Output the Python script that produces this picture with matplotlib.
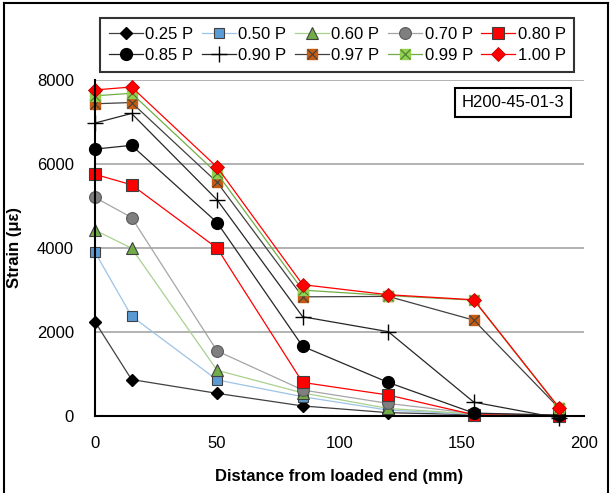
import matplotlib.pyplot as plt
from matplotlib.lines import Line2D
from matplotlib.legend_handler import HandlerTuple

plt.rcParams['font.family'] = ['Liberation Sans', 'DejaVu Sans']

# Odległość od obciążonego końca (mm)
distance = [0, 15, 50, 85, 120, 155, 190]

# Odkształcenia dla kolejnych poziomów obciążenia
s025 = [2240, 860, 530, 230, 70, 20, 0]
s050 = [3900, 2370, 850, 450, 130, 30, 0]
s060 = [4420, 3990, 1080, 540, 170, 40, 10]
s070 = [5200, 4720, 1540, 610, 290, 50, 10]
s080 = [5750, 5500, 3990, 790, 490, 20, 0]
s085 = [6350, 6440, 4600, 1650, 790, 60, 10]
s090 = [6970, 7200, 5140, 2355, 2000, 320, -60]
s097 = [7430, 7460, 5560, 2830, 2840, 2275, 170]
s099 = [7620, 7680, 5770, 2990, 2860, 2750, 170]
s100 = [7760, 7830, 5920, 3120, 2880, 2760, 180]

labels = ['0.25 P', '0.50 P', '0.60 P', '0.70 P', '0.80 P',
          '0.85 P', '0.90 P', '0.97 P', '0.99 P', '1.00 P']

fig = plt.figure(figsize=(6.12, 4.93), dpi=100)
ax = fig.add_axes([0.155, 0.157, 0.799, 0.681])

lw = 0.9
ms = 7.5
h = []
h.append(ax.plot(distance, s025, color='#404040', lw=lw, marker='D', ms=6,
                 mfc='black', mec='black', clip_on=False)[0])
h.append(ax.plot(distance, s050, color='#9DC3E6', lw=lw, marker='s', ms=ms,
                 mfc='#5B9BD5', mec='#404040', mew=0.8, clip_on=False)[0])
h.append(ax.plot(distance, s060, color='#A9D18E', lw=lw, marker='^', ms=ms + 1,
                 mfc='#70AD47', mec='#404040', mew=0.8, clip_on=False)[0])
h.append(ax.plot(distance, s070, color='#A5A5A5', lw=lw, marker='o', ms=ms + 1,
                 mfc='#7F7F7F', mec='#595959', mew=0.8, clip_on=False)[0])
h.append(ax.plot(distance, s080, color='#FF0000', lw=lw, marker='s', ms=ms + 1,
                 mfc='#FF0000', mec='#404040', mew=0.8, clip_on=False)[0])
h.append(ax.plot(distance, s085, color='#262626', lw=lw, marker='o', ms=ms + 1,
                 mfc='black', mec='black', clip_on=False)[0])
h.append(ax.plot(distance, s090, color='#262626', lw=lw, marker='+', ms=ms + 4,
                 mec='black', mew=1.0, clip_on=False)[0])
l97 = ax.plot(distance, s097, color='#404040', lw=lw, marker='s', ms=ms,
              mfc='#C55A11', mec='#C55A11', clip_on=False)[0]
x97 = ax.plot(distance, s097, ls='none', marker='x', ms=ms - 1,
              mec='#404040', mew=0.8, clip_on=False)[0]
h.append((l97, x97))
l99 = ax.plot(distance, s099, color='#70AD47', lw=lw, marker='s', ms=ms,
              mfc='#92D050', mec='#92D050', clip_on=False)[0]
x99 = ax.plot(distance, s099, ls='none', marker='x', ms=ms - 1,
              mec='#548235', mew=0.9, clip_on=False)[0]
h.append((l99, x99))
h.append(ax.plot(distance, s100, color='#FF0000', lw=lw, marker='D', ms=ms,
                 mfc='#FF0000', mec='#C00000', mew=0.6, clip_on=False)[0])

ax.set_xlim(0, 200)
ax.set_ylim(0, 8000)
ax.set_xticks([0, 50, 100, 150, 200])
ax.set_yticks([0, 2000, 4000, 6000, 8000])
ax.tick_params(length=0, labelsize=12)
ax.tick_params(axis='x', pad=15)
ax.tick_params(axis='y', pad=15)
ax.grid(axis='y', color='#A6A6A6', lw=1.2)
ax.set_axisbelow(True)
for s in ['top', 'right']:
    ax.spines[s].set_visible(False)
for s in ['left', 'bottom']:
    ax.spines[s].set_linewidth(1.5)
    ax.spines[s].set_color('black')

ax.set_xlabel('Distance from loaded end (mm)', fontsize=12, fontweight='bold', labelpad=13)
ax.set_ylabel('Strain (με)', fontsize=12, fontweight='bold', labelpad=11)

ax.text(0.96, 0.955, 'H200-45-01-3', transform=ax.transAxes, ha='right', va='top',
        fontsize=12, bbox=dict(boxstyle='square,pad=0.4', fc='white', ec='black', lw=1.5))

# legenda wierszami: przeplatanie kolumn
order = [0, 5, 1, 6, 2, 7, 3, 8, 4, 9]
leg = fig.legend([h[i] for i in order], [labels[i] for i in order], ncol=5,
                 loc='center', bbox_to_anchor=(0.551, 0.909),
                 fontsize=12, frameon=True, fancybox=False, edgecolor='black',
                 handlelength=2.05, handletextpad=0.15, columnspacing=0.5,
                 borderpad=0.5, labelspacing=0.4,
                 handler_map={tuple: HandlerTuple(ndivide=1)})
leg.get_frame().set_linewidth(1.5)

# ramka wokół całego rysunku
fig.add_artist(Line2D([0.007, 0.007], [0, 0.994], color='black', lw=1.5))
fig.add_artist(Line2D([0.007, 0.993], [0.994, 0.994], color='black', lw=1.5))
fig.add_artist(Line2D([0.993, 0.993], [0, 0.994], color='black', lw=1.5))

fig.savefig('out.png', dpi=100)
